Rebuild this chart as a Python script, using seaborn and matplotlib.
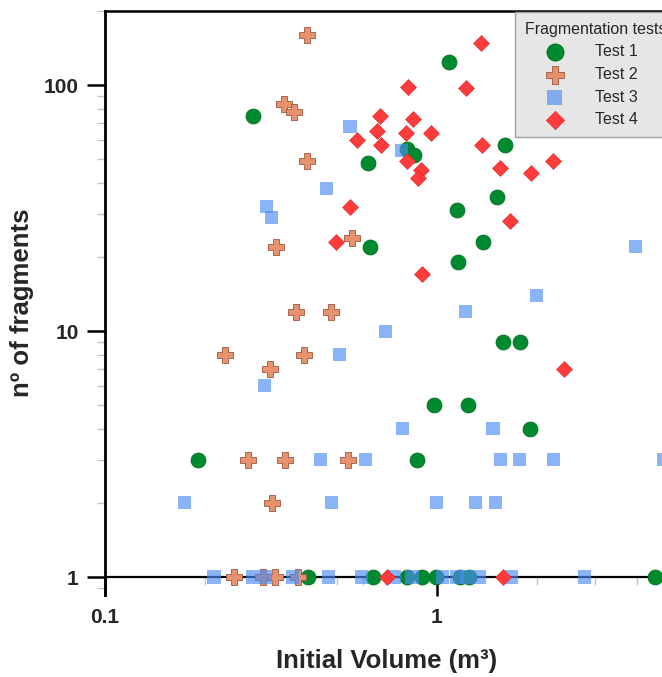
import matplotlib
matplotlib.use("Agg")
import matplotlib.pyplot as plt
import matplotlib.ticker as mticker
import seaborn as sns

# Fragmentation tests: initial block volume (m³) vs number of fragments
test1_vol = [0.28, 1.09, 1.60, 0.62, 0.81, 0.85, 1.52, 1.15, 0.63, 1.38, 1.16,
             1.58, 1.78, 0.98, 1.24, 1.90, 0.87, 0.19,
             0.41, 0.64, 0.81, 0.90, 0.99, 1.17, 1.25, 4.54]
test1_frag = [75, 124, 57, 48, 55, 52, 35, 31, 22, 23, 19,
              9, 9, 5, 5, 4, 3, 3,
              1, 1, 1, 1, 1, 1, 1, 1]

test2_vol = [0.405, 0.345, 0.37, 0.405, 0.327, 0.555, 0.375, 0.48, 0.23, 0.397,
             0.314, 0.27, 0.348, 0.54, 0.318, 0.245, 0.299, 0.325, 0.381]
test2_frag = [160, 84, 78, 49, 22, 24, 12, 12, 8, 8,
              7, 3, 3, 3, 2, 1, 1, 1, 1]

test3_vol = [0.547, 0.78, 0.466, 0.307, 0.318, 1.22, 3.95, 2.0, 0.70, 0.507,
             0.303, 0.785, 1.475, 0.447, 0.61, 1.55, 1.77, 2.24, 4.8,
             0.173, 0.48, 1.0, 1.31, 1.5,
             0.213, 0.279, 0.305, 0.366, 0.47, 0.594, 0.747, 0.841, 1.04,
             1.149, 1.23, 1.347, 1.682, 2.79]
test3_frag = [68, 54, 38, 32, 29, 12, 22, 14, 10, 8,
              6, 4, 4, 3, 3, 3, 3, 3, 3,
              2, 2, 2, 2, 2,
              1, 1, 1, 1, 1, 1, 1, 1, 1,
              1, 1, 1, 1, 1]

test4_vol = [1.36, 0.82, 1.22, 0.673, 0.847, 0.66, 0.806, 0.96, 0.574, 0.678,
             1.37, 0.81, 0.895, 0.877, 1.55, 1.92, 2.24, 1.66, 0.547, 0.496,
             0.90, 2.41, 0.707, 1.58]
test4_frag = [148, 98, 97, 75, 73, 65, 64, 64, 60, 57,
              57, 49, 45, 42, 46, 44, 49, 28, 32, 23,
              17, 7, 1, 1]

series_labels = ["Test 1", "Test 2", "Test 3", "Test 4"]
legend_title = "Fragmentation tests"
x_ticks = [0.1, 1]
y_ticks = [1, 10, 100]

sns.set_style("white")
plt.rcParams["font.family"] = ["Liberation Sans", "DejaVu Sans"]
plt.rcParams["font.weight"] = "bold"

W, H = 662, 677
fig = plt.figure(figsize=(W / 100, H / 100), dpi=100)
ax = fig.add_axes([105 / W, 1 - 595 / H, (669 - 105) / W, (595 - 11) / H])

sns.scatterplot(x=test1_vol, y=test1_frag, marker="o", s=115, color="#008a30",
                edgecolor="#00701f", linewidth=0.6, label=series_labels[0],
                ax=ax, zorder=3)
sns.scatterplot(x=test2_vol, y=test2_frag, marker="P", s=135, color="#e8916e",
                edgecolor="#9a5a3c", linewidth=0.6, label=series_labels[1],
                ax=ax, zorder=4)
sns.scatterplot(x=test3_vol, y=test3_frag, marker="s", s=88, color="#4b8cf4",
                alpha=0.65, edgecolor="none", linewidth=0, label=series_labels[2],
                ax=ax, zorder=5)
sns.scatterplot(x=test4_vol, y=test4_frag, marker="D", s=66, color="#ff3b3b",
                edgecolor="#e02020", linewidth=0.4, label=series_labels[3],
                ax=ax, zorder=6)

ax.set_xscale("log")
ax.set_yscale("log")
ax.set_xlim(0.1, 5.0)
ax.set_ylim(0.845, 200)

# axis line drawn through y = 1, frame on left and top
ax.spines["bottom"].set_position(("data", 1))
for side in ["left", "top", "bottom", "right"]:
    ax.spines[side].set_color("black")
ax.spines["left"].set_linewidth(2.0)
ax.spines["top"].set_linewidth(1.8)
ax.spines["bottom"].set_linewidth(1.6)
ax.spines["right"].set_linewidth(1.8)

ax.xaxis.set_major_locator(mticker.FixedLocator(x_ticks))
ax.yaxis.set_major_locator(mticker.FixedLocator(y_ticks))
ax.xaxis.set_minor_locator(mticker.LogLocator(base=10, subs=range(2, 10)))
ax.yaxis.set_minor_locator(mticker.LogLocator(base=10, subs=range(2, 10)))
fmt = mticker.FuncFormatter(lambda v, _: f"{v:g}")
ax.xaxis.set_major_formatter(fmt)
ax.yaxis.set_major_formatter(fmt)
ax.xaxis.set_minor_formatter(mticker.NullFormatter())
ax.yaxis.set_minor_formatter(mticker.NullFormatter())

ax.tick_params(axis="both", which="major", direction="out", color="black",
               width=1.8, labelsize=15, bottom=True, left=True)
ax.tick_params(axis="y", which="major", length=13, pad=6)
ax.tick_params(axis="x", which="major", length=14, pad=8)
ax.tick_params(axis="both", which="minor", direction="out", color="#c4c4c4",
               width=1.0, length=6, bottom=True, left=True)

ax.set_xlabel("Initial Volume (m³)", fontsize=18.5, fontweight="bold", labelpad=16)
ax.set_ylabel("nº of fragments", fontsize=18.5, fontweight="bold", labelpad=7)

leg = ax.legend(title=legend_title, loc="upper left",
                bbox_to_anchor=(515 / W, 1 - 12 / H), bbox_transform=fig.transFigure,
                frameon=True, fancybox=False, framealpha=1,
                facecolor="#e6e6e6", edgecolor="#a0a0a0",
                prop={"size": 11.5, "weight": "normal"},
                title_fontproperties={"size": 11.5, "weight": "normal"},
                borderpad=0.6, handlelength=3.8, handletextpad=0.6,
                labelspacing=0.48, markerscale=1.15, alignment="left",
                borderaxespad=0)
leg.get_frame().set_linewidth(1.0)
leg.set_zorder(10)

fig.savefig("out.png", dpi=100)
